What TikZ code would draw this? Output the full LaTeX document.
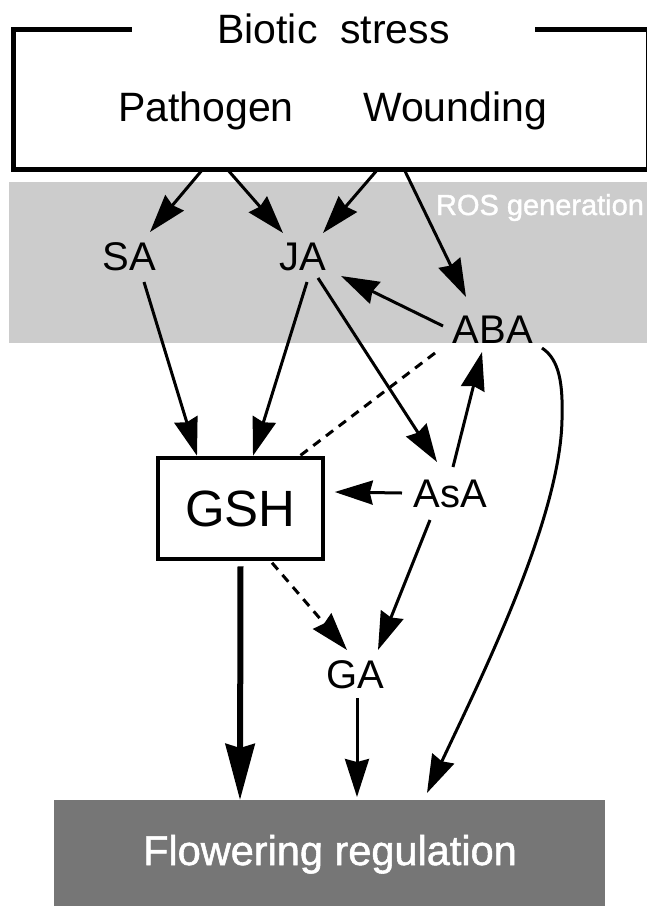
\documentclass[tikz,border=0pt]{standalone}
\usepackage{fontspec}
\setmainfont{Liberation Sans}
\newfontfamily\heavyish[FakeBold=1.3]{Liberation Sans}
\usetikzlibrary{arrows.meta,calc}
\definecolor{bandgray}{HTML}{CCCCCC}
\definecolor{flowgray}{HTML}{767676}
\begin{document}
\begin{tikzpicture}[x=1pt,y=-1pt,
  lbl/.style={inner sep=0pt, anchor=base, font=\fontsize{40}{44}\selectfont},
  arr/.style={line width=3pt, -{Stealth[length=38pt,width=24pt,inset=3pt]}},
  thickarr/.style={line width=6pt, -{Stealth[length=56pt,width=29pt,inset=4pt]}},
  dashline/.style={line width=3pt, dash pattern=on 9pt off 7pt},
  boxline/.style={line width=5pt, line join=miter}
]
\useasboundingbox (0,0) rectangle (646,906);

% shaded bands
\node[fill=bandgray, inner sep=0pt, outer sep=0pt, minimum width=642pt, minimum height=161pt] (band) at (330,262.5) {};
\node[fill=flowgray, inner sep=0pt, outer sep=0pt, minimum width=551pt, minimum height=110pt] (flow) at (329.5,855) {};
\node[lbl, text=white, font=\heavyish\fontsize{29}{32}\selectfont] (ros) at (540,215) {ROS generation};
\node[lbl, text=white, font=\heavyish\fontsize{41.5}{45}\selectfont] (flowtxt) at (330,865) {Flowering regulation};

% biotic stress box
\node[inner sep=0pt, outer sep=0pt, minimum width=635pt, minimum height=140pt] (bio) at (330.5,99) {};
\node[lbl, font=\fontsize{41}{45}\selectfont, minimum width=403pt] (title) at (333.5,43) {Biotic\ \ stress};
\draw[boxline] (title.west |- bio.north) -- (bio.north west) -- (bio.south west) -- (bio.south east) -- (bio.north east) -- (title.east |- bio.north);
\node[lbl, font=\fontsize{41}{45}\selectfont] (path) at (206,121) {Pathogen};
\node[lbl, font=\fontsize{41}{45}\selectfont] (wound) at (455,121) {Wounding};

% labels
\node[lbl] (sa) at (129,270) {SA};
\node[lbl] (ja) at (303,270) {JA};
\node[lbl] (aba) at (493,343) {ABA};
\node[lbl] (asa) at (450,507) {AsA};
\node[lbl] (ga) at (355,688) {GA};
\node[draw, line width=4.5pt, inner sep=0pt, minimum width=165pt, minimum height=101pt, font=\fontsize{51}{55}\selectfont] (gsh) at (240.5,508.5) {GSH};

% connectors
\draw[arr] ($(bio.south west)+(190,0)$) -- ($(sa.base)+(21,-38)$);
\draw[arr] ($(bio.south west)+(214,0)$) -- ($(ja.base)+(-20,-37)$);
\draw[arr] ($(bio.south west)+(365,0)$) -- ($(ja.base)+(20,-37)$);
\draw[arr] ($(bio.south west)+(391,0)$) -- ($(aba.base)+(-27,-46)$);
\draw[arr] ($(aba.base)+(-50,-17)$) -- ($(ja.base)+(38,6)$);
\draw[arr] ($(sa.base)+(15,12)$) -- ($(gsh.north)+(-43.5,0)$);
\draw[arr] ($(ja.base)+(4,12)$) -- ($(gsh.north)+(12.5,0)$);
\draw[arr] ($(ja.base)+(15,8)$) -- ($(asa.base)+(-13,-45)$);
\draw[arr] ($(asa.base)+(3,-40)$) -- ($(aba.base)+(-11,9)$);
\draw[dashline] ($(aba.base)+(-58,10)$) -- ($(gsh.north)+(59.5,0)$);
\draw[arr] ($(asa.base)+(-48,-14)$) -- ($(gsh.east)+(9.5,-16.5)$);
\draw[arr] ($(asa.base)+(-20,13)$) -- ($(ga.base)+(23,-38)$);
\draw[thickarr] ($(gsh.south)+(0,5)$) -- ($(flow.north)+(-89.5,0)$);
\draw[arr, dash pattern=on 9pt off 7pt] ($(gsh.south)+(31.5,1.5)$) -- ($(ga.base)+(-8,-38)$);
\draw[arr] ($(ga.base)+(2,10)$) -- ($(flow.north)+(27.5,-3)$);
\draw[arr] ($(aba.base)+(49,5)$) .. controls (560,360) and (563,385) .. (562,420) .. controls (560,520) and (480,680) .. ($(flow.north)+(97.5,-7)$);
\end{tikzpicture}
\end{document}
